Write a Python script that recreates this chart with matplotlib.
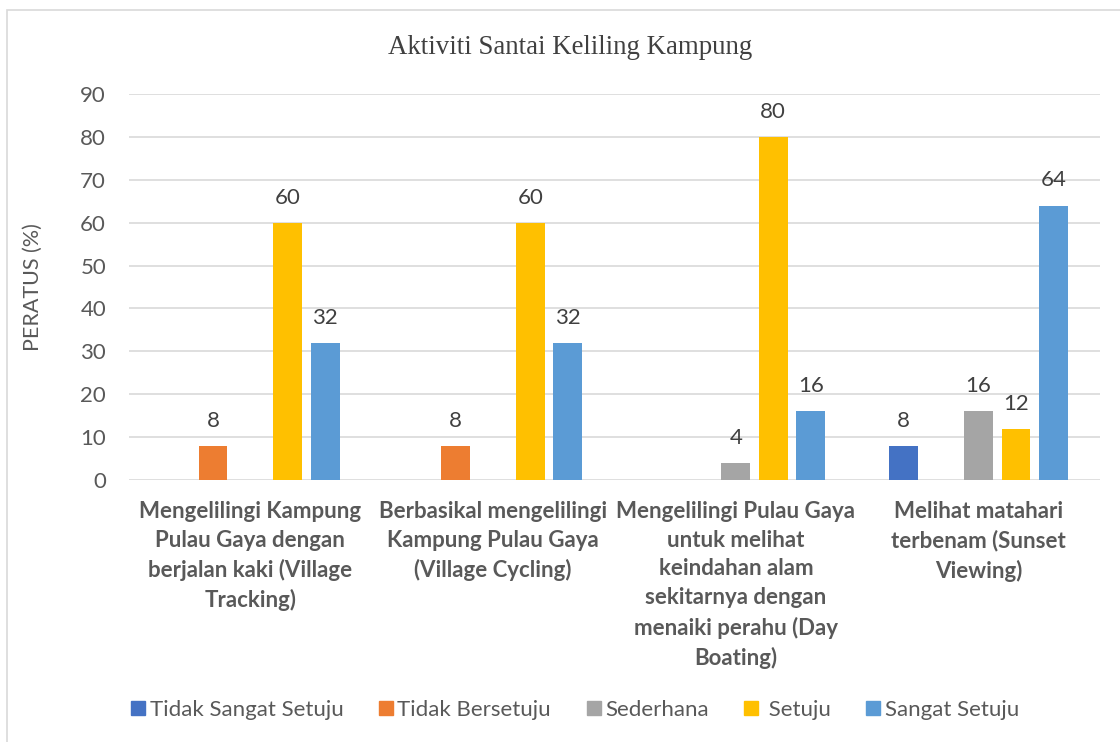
import matplotlib.pyplot as plt
import numpy as np
from matplotlib.patches import Rectangle, Patch

# data
categories = [
    "Mengelilingi Kampung\nPulau Gaya dengan\nberjalan kaki (Village\nTracking)",
    "Berbasikal mengelilingi\nKampung Pulau Gaya\n(Village Cycling)",
    "Mengelilingi Pulau Gaya\nuntuk melihat\nkeindahan alam\nsekitarnya dengan\nmenaiki perahu (Day\nBoating)",
    "Melihat matahari\nterbenam (Sunset\nViewing)",
]
series_names = ["Tidak Sangat Setuju", "Tidak Bersetuju", "Sederhana", " Setuju", "Sangat Setuju"]
tidak_sangat_setuju = [0, 0, 0, 8]
tidak_bersetuju = [8, 8, 0, 0]
sederhana = [0, 0, 4, 16]
setuju = [60, 60, 80, 12]
sangat_setuju = [32, 32, 16, 64]
yticks = [0, 10, 20, 30, 40, 50, 60, 70, 80, 90]

colors = ["#4472C4", "#ED7D31", "#A5A5A5", "#FFC000", "#5B9BD5"]
sans = ["Lato", "DejaVu Sans"]
plt.rcParams["font.family"] = sans


def main():
    values = [tidak_sangat_setuju, tidak_bersetuju, sederhana, setuju, sangat_setuju]
    fig = plt.figure(figsize=(11.2, 7.42), dpi=100)
    # light chart border like Excel
    fig.patches.append(Rectangle((7 / 1120, -0.01), 1.02, 1 - 10 / 742 + 0.01,
                                 transform=fig.transFigure, fill=False,
                                 edgecolor="#d9d9d9", linewidth=1.2))
    ax = fig.add_axes([129 / 1120, 1 - 480 / 742, 971 / 1120, 386 / 742])

    x = np.arange(len(categories))
    step = 0.154
    width = 0.119
    for i, (vals, col) in enumerate(zip(values, colors)):
        pos = x + (i - 2) * step
        ax.bar(pos, vals, width=width, color=col, zorder=3)
        for p, v in zip(pos, vals):
            if v:
                ax.text(p, v + 3.5, str(v), ha="center", va="bottom",
                        fontsize=16, color="#404040")

    ax.set_xlim(-0.5, len(categories) - 0.5)
    ax.set_ylim(0, 90)
    ax.set_yticks(yticks)
    ax.yaxis.grid(True, color="#d9d9d9", linewidth=1.2, zorder=0)
    ax.tick_params(axis="y", length=0, labelsize=16, labelcolor="#595959", pad=16.5)
    ax.set_xticks(x)
    ax.set_xticklabels(categories, fontsize=16, fontweight="bold",
                       color="#595959", linespacing=1.46, va="top")
    ax.tick_params(axis="x", length=0, pad=15)
    for s in ax.spines.values():
        s.set_visible(False)

    fig.text(33 / 1120, 1 - 287 / 742, "PERATUS (%)", rotation=90, ha="center",
             va="center", fontsize=15.5, color="#595959")
    fig.text(570 / 1120, 1 - 47 / 742, "Aktiviti Santai Keliling Kampung",
             ha="center", va="center", fontsize=19.4, color="#404040",
             family="Liberation Serif")

    handles = [Patch(color=c) for c in colors]
    fig.legend(handles, series_names, loc="center", ncol=5,
               bbox_to_anchor=(575 / 1120, 1 - 710 / 742), frameon=False,
               fontsize=16, handlelength=0.63, handleheight=0.63,
               handletextpad=0.2, columnspacing=1.6, labelcolor="#595959")

    fig.savefig("out.png", dpi=100)


if __name__ == "__main__":
    main()
